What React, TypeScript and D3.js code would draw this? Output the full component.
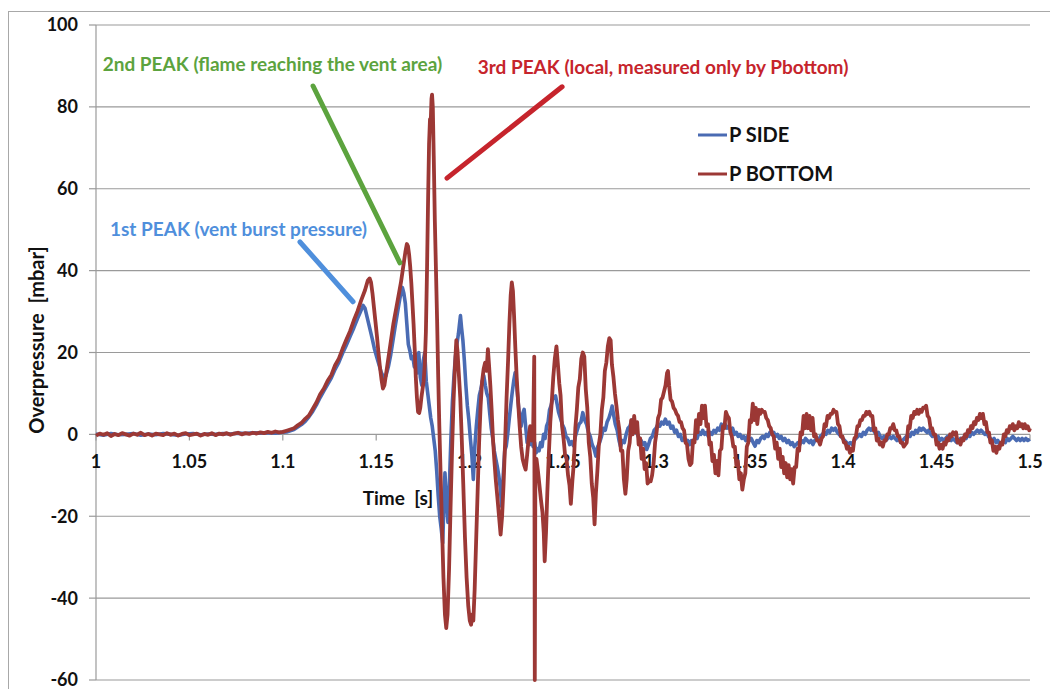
import React from "react";
import * as d3 from "d3";

// Time axis ticks [s] and their labels
const timeTicks = [1, 1.05, 1.1, 1.15, 1.2, 1.25, 1.3, 1.35, 1.4, 1.45, 1.5];
const timeTickLabels = ["1", "1.05", "1.1", "1.15", "1.2", "1.25", "1.3", "1.35", "1.4", "1.45", "1.5"];
// Overpressure axis ticks [mbar]
const pressureTicks = [-60, -40, -20, 0, 20, 40, 60, 80, 100];

const seriesNames = ["P SIDE", "P BOTTOM"];

// P BOTTOM, quiet phase before ignition growth (1.000 - 1.100 s, 2 ms step)
const bottomQuietStart = 1.0;
const bottomQuietStep = 0.002;
const bottomQuiet = [
  -0.3, 0.2, -0.1, 0.3, -0.4, 0.1, -0.2, 0.3, 0.0, -0.3, 0.2, -0.1, 0.4, -0.2, 0.1, -0.3, 0.2,
  0.0, -0.2, 0.3, -0.1, 0.2, -0.3, 0.1, 0.3, -0.2, 0.0, 0.2, -0.3, 0.1, -0.1, 0.3, -0.2, 0.2,
  0.0, 0.3, -0.1, 0.2, 0.4, 0.0, 0.3, 0.1, 0.4, 0.2, 0.5, 0.3, 0.6, 0.4, 0.7, 0.5, 0.6,
];

// P BOTTOM, pressure rise and the three peaks [time s, mbar]
const bottomPeaks: [number, number][] = [
  [1.102, 0.9], [1.104, 1.2], [1.106, 1.5], [1.108, 2.2], [1.110, 2.8], [1.112, 3.8], [1.114, 4.6],
  [1.116, 6.2], [1.118, 7.8], [1.120, 9.8], [1.122, 11.2], [1.124, 13.1], [1.126, 14.5], [1.128, 16.9],
  [1.130, 18.5], [1.132, 20.9], [1.134, 23.1], [1.136, 25.2], [1.138, 27.8], [1.140, 30.1], [1.142, 32.8],
  [1.144, 35.2], [1.1455, 37.6], [1.1465, 38.1], [1.1472, 37.2], [1.148, 34.5], [1.1488, 31], [1.1496, 27.5],
  [1.1504, 24], [1.1512, 20], [1.152, 16.5], [1.1528, 13.5], [1.1536, 11.2], [1.1544, 12], [1.1552, 14.5],
  [1.156, 17], [1.1568, 19.5], [1.1576, 22], [1.1584, 24.5], [1.1592, 27], [1.16, 29], [1.1608, 31],
  [1.1616, 33], [1.1624, 35], [1.1632, 37], [1.164, 39.5], [1.1648, 42], [1.1656, 44.5], [1.1664, 46.5],
  [1.167, 46], [1.1676, 44], [1.1682, 41], [1.1688, 37], [1.1694, 32], [1.17, 27], [1.1706, 21],
  [1.1712, 14], [1.1718, 9], [1.1724, 5.5], [1.173, 5.2], [1.1736, 6.5], [1.1742, 9], [1.1748, 11],
  [1.1754, 13], [1.176, 17], [1.1766, 25], [1.1772, 40], [1.1778, 58], [1.1783, 71], [1.1788, 77],
  [1.1792, 76.5], [1.1796, 82], [1.1799, 83], [1.1803, 80], [1.1808, 68], [1.1814, 52], [1.182, 40],
  [1.1826, 28], [1.1832, 14], [1.1838, 2], [1.1845, -10], [1.1852, -22], [1.186, -35], [1.1868, -44],
  [1.1875, -47.3], [1.1882, -44], [1.189, -33], [1.1898, -18], [1.1906, -4], [1.1914, 8], [1.1922, 17],
  [1.1929, 23], [1.1935, 20.5], [1.1942, 15], [1.195, 9], [1.1958, -1], [1.1966, -12], [1.1975, -25],
  [1.1984, -35], [1.1993, -42], [1.2001, -45.5], [1.2008, -46.5], [1.2014, -44], [1.202, -45.5],
  [1.2027, -38], [1.2035, -26], [1.2043, -14], [1.2051, -2], [1.2059, 7], [1.2067, 13], [1.2075, 15.9],
  [1.2083, 17.5], [1.2091, 15.5], [1.2098, 20.8], [1.2104, 17], [1.2111, 12], [1.2118, 6], [1.2125, -1],
  [1.2132, -6], [1.214, -11], [1.2148, -15], [1.2156, -19.2], [1.2166, -24.5], [1.2174, -20], [1.2182, -12],
  [1.219, -2], [1.2198, 9], [1.2206, 18], [1.2213, 27], [1.222, 34], [1.2226, 37.1], [1.2232, 35],
  [1.2238, 29], [1.2245, 21], [1.2252, 14], [1.226, 7.8], [1.2268, 2], [1.2276, -3], [1.2284, -6.1],
  [1.2292, -7.5], [1.23, -8.6], [1.2308, -5], [1.2316, -1], [1.2324, 2], [1.2332, -1.5], [1.234, 0.5],
  [1.2346, 19], [1.2349, -60], [1.2352, -10], [1.2358, -6], [1.2366, -9], [1.2374, -12.5], [1.2382, -16],
  [1.239, -19], [1.2397, -24], [1.2402, -31], [1.2409, -24], [1.2416, -14.3], [1.2424, -5], [1.2432, 3],
  [1.244, 8], [1.2448, 14], [1.2456, 18.4], [1.2465, 21.5],
];

// P BOTTOM, decaying oscillations with sensor noise [time s, mbar]
const bottomDecay: [number, number][] = [
  [1.2472, 17.5], [1.248, 12.5], [1.2487, 9.5], [1.2495, 2], [1.2503, -1], [1.2511, -5], [1.2519, -6],
  [1.2527, -10], [1.2535, -12.5], [1.2542, -17], [1.255, -11.5], [1.2558, -7], [1.2566, 1.5], [1.2574, 6],
  [1.2582, 11.5], [1.259, 13.5], [1.2598, 18.5], [1.2606, 20], [1.2614, 19], [1.2622, 11], [1.263, 6.5],
  [1.2638, -2], [1.2646, -5.5], [1.2654, -12], [1.2662, -15.5], [1.2669, -22], [1.2676, -14.5], [1.2684, -9],
  [1.2692, -2.5], [1.27, 0], [1.2708, 6], [1.2716, 9], [1.2724, 15.5], [1.2732, 17.5], [1.274, 21.5],
  [1.2748, 23.5], [1.2755, 23], [1.2762, 17], [1.277, 14], [1.2778, 10], [1.2786, 7], [1.2794, 3.5],
  [1.2802, 1], [1.281, -4], [1.2818, -4], [1.2826, -11], [1.2834, -14.5], [1.2841, -11], [1.2849, -4],
  [1.2857, -2], [1.2865, 3.5], [1.2873, 0], [1.2881, 4.5], [1.2889, 0.5], [1.2897, 3], [1.2905, -2.5],
  [1.2913, -1], [1.2921, -6], [1.2929, -3.5], [1.2937, -8.5], [1.2945, -7], [1.2953, -12], [1.2961, -11.5],
  [1.2969, -11.5], [1.2977, -10], [1.2985, -7], [1.2993, -2], [1.3001, 0.5], [1.3009, 4], [1.3017, 5],
  [1.3025, 8.5], [1.3033, 9], [1.3041, 10.5], [1.3049, 12], [1.3057, 15], [1.3062, 15.5], [1.3068, 12],
  [1.3076, 8.5], [1.3084, 8], [1.3092, 6.5], [1.31, 6], [1.3108, 5], [1.3116, 4.5], [1.3124, 3],
  [1.3132, 3], [1.314, 1.5], [1.3148, 1], [1.3156, -2], [1.3164, -2.5], [1.3172, -6], [1.318, -7.5],
  [1.3188, -7], [1.3196, -1.5], [1.3204, -2], [1.3212, 3.5], [1.322, 0.5], [1.3228, 5], [1.3236, 2.5],
  [1.3244, 7], [1.3252, 4], [1.326, 7], [1.3268, 2], [1.3276, 2.5], [1.3284, -2.5], [1.3292, -2],
  [1.33, -6.5], [1.3308, -5], [1.3316, -9.5], [1.3324, -6.5], [1.3332, -10], [1.334, -4], [1.3348, -3.5],
  [1.3356, 2], [1.3364, 1.5], [1.3372, 5.5], [1.338, 4.5], [1.3388, 4], [1.3396, 0.5], [1.3404, -0.5],
  [1.3412, -3], [1.342, -3], [1.3428, -7.5], [1.3436, -6.5], [1.3444, -11], [1.3452, -9.5], [1.346, -13.5],
  [1.3468, -11], [1.3476, -9.5], [1.3484, -3], [1.3492, -2], [1.35, 3.5], [1.3508, 3], [1.3516, 7.5],
  [1.3524, 3.5], [1.3532, 6.5], [1.354, 2.5], [1.3548, 6], [1.3556, 5], [1.3564, 6], [1.3572, 5.5],
  [1.358, 5.5], [1.3588, 4], [1.3596, 3.5], [1.3604, 2], [1.3612, 1.5], [1.362, 0], [1.3628, -0.5],
  [1.3636, -3.5], [1.3644, -2], [1.3652, -6], [1.366, -3.5], [1.3668, -8], [1.3676, -5.5], [1.3684, -9.5],
  [1.3692, -7], [1.37, -10.5], [1.3708, -7.5], [1.3716, -11], [1.3724, -8.5], [1.3732, -12], [1.374, -8],
  [1.3748, -8], [1.3756, -3.5], [1.3764, -4], [1.3772, 0.5], [1.378, 0], [1.3788, 4.5], [1.3796, 1.5],
  [1.3804, 5], [1.3812, 1.5], [1.382, 4.5], [1.3828, 1], [1.3836, 4], [1.3844, -0.5], [1.3852, 0],
  [1.386, -1.5], [1.3868, -1.5], [1.3876, -2.5], [1.3884, -1], [1.3892, -0.5], [1.39, 2.5], [1.3908, 2],
  [1.3916, 4.5], [1.3924, 4], [1.3932, 5], [1.394, 5], [1.3948, 6], [1.3956, 5.5], [1.3964, 5.5],
  [1.3972, 2.5], [1.398, 2], [1.3988, -0.5], [1.3996, -0.5], [1.4004, -2], [1.4012, -2], [1.402, -3.5],
  [1.4028, -3], [1.4036, -4.5], [1.4044, -3.5], [1.4052, -4], [1.406, -1], [1.4068, -0.5], [1.4076, 2],
  [1.4084, 2], [1.4092, 3.5], [1.41, 3.5], [1.4108, 4.5], [1.4116, 4.5], [1.4124, 5.5], [1.4132, 5],
  [1.414, 5.5], [1.4148, 4.5], [1.4156, 4.5], [1.4164, 1], [1.4172, 1.5], [1.418, -1.5], [1.4188, -1],
  [1.4196, -2.5], [1.4204, -2], [1.4212, -3], [1.422, -1.5], [1.4228, -1.5], [1.4236, 0], [1.4244, 0],
  [1.4252, 1.5], [1.426, 1.5], [1.4268, 2.5], [1.4276, 1], [1.4284, 1], [1.4292, -0.5], [1.43, -0.5],
  [1.4308, -2], [1.4316, -2], [1.4324, -3], [1.4332, -2.5], [1.434, -2], [1.4348, 2], [1.4356, 1.5],
  [1.4364, 4.5], [1.4372, 4], [1.438, 5.5], [1.4388, 5], [1.4396, 6], [1.4404, 5], [1.4412, 6],
  [1.442, 5.5], [1.4428, 6.5], [1.4436, 6.5], [1.4444, 7], [1.4452, 4.5], [1.446, 4], [1.4468, 1.5],
  [1.4476, 1.5], [1.4484, 0], [1.4492, 0], [1.45, -2.5], [1.4508, -2], [1.4516, -3.5], [1.4524, -2.5],
  [1.4532, -3.5], [1.454, -2], [1.4548, -2.5], [1.4556, -1], [1.4564, -1.5], [1.4572, 0], [1.458, -0.5],
  [1.4588, 0.5], [1.4596, 0], [1.4604, 0.5], [1.4612, -2], [1.462, -1.5], [1.4628, -2.5], [1.4636, -1],
  [1.4644, -1.5], [1.4652, 0], [1.466, -0.5], [1.4668, 1], [1.4676, 0.5], [1.4684, 2], [1.4692, 1.5],
  [1.47, 3], [1.4708, 2.5], [1.4716, 4], [1.4724, 3.5], [1.4732, 5], [1.474, 4], [1.4748, 5],
  [1.4756, 2.5], [1.4764, 3], [1.4772, 0.5], [1.478, 0.5], [1.4788, -2], [1.4796, -1.5], [1.4804, -4],
  [1.4812, -3], [1.482, -4.5], [1.4828, -3], [1.4836, -3.5], [1.4844, -2], [1.4852, -2.5], [1.486, 0],
  [1.4868, -0.5], [1.4876, 1], [1.4884, 0.5], [1.4892, 2], [1.49, 1.5], [1.4908, 2.5], [1.4916, 1],
  [1.4924, 2], [1.4932, 1.5], [1.494, 3], [1.4948, 2], [1.4956, 2.5], [1.4964, 1.5], [1.4972, 2.5],
  [1.498, 1.5], [1.4988, 2], [1.4996, 1], [1.5, 1.5],
];

// P SIDE, quiet phase (1.000 - 1.100 s, 4 ms step)
const sideQuietStart = 1.0;
const sideQuietStep = 0.004;
const sideQuiet = [
  0.1, -0.2, 0.2, -0.1, 0.0, 0.2, -0.2, 0.1, -0.1, 0.2, 0.0, -0.2, 0.1, 0.2, -0.1, 0.1, 0.0, 0.2,
  0.1, 0.3, 0.2, 0.4, 0.3, 0.4, 0.3, 0.5,
];

// P SIDE, pressure rise and peaks [time s, mbar]
const sidePeaks: [number, number][] = [
  [1.102, 0.6], [1.104, 0.9], [1.106, 1.2], [1.108, 1.8], [1.11, 2.4], [1.112, 3.2], [1.114, 4.3],
  [1.116, 5.6], [1.118, 7.2], [1.12, 9.0], [1.122, 10.6], [1.124, 12.2], [1.126, 13.8], [1.128, 15.9],
  [1.13, 17.6], [1.132, 19.8], [1.134, 21.8], [1.136, 23.9], [1.138, 26], [1.14, 28.3], [1.1418, 30.2],
  [1.143, 31.5], [1.144, 30.8], [1.1452, 28.5], [1.1465, 26], [1.1478, 23.5], [1.149, 21], [1.1502, 19],
  [1.1515, 17], [1.1528, 15], [1.154, 14], [1.1552, 14.3], [1.1565, 16.5], [1.1578, 19.5], [1.159, 23],
  [1.1602, 26.5], [1.1615, 30], [1.1628, 33.5], [1.164, 35.9], [1.1648, 34.5], [1.1656, 32], [1.1664, 27],
  [1.1672, 22], [1.168, 20.5], [1.1688, 18.5], [1.1696, 19], [1.1704, 16.5], [1.1712, 19.5], [1.172, 15],
  [1.1728, 20], [1.1736, 14], [1.1744, 12], [1.1752, 18], [1.176, 20], [1.1768, 13], [1.1776, 10],
  [1.1784, 7], [1.1792, 4], [1.18, 2], [1.1808, -1], [1.1816, -4], [1.1824, -9], [1.1832, -15],
  [1.184, -20], [1.1848, -23], [1.1856, -26.5], [1.1862, -18], [1.1868, -9.4], [1.1876, -16], [1.1884, -21.5],
  [1.1892, -12], [1.19, -1], [1.1908, 8], [1.1916, 14], [1.1924, 19], [1.1932, 22], [1.194, 24.5],
  [1.1946, 27], [1.1951, 29], [1.1957, 26], [1.1964, 23], [1.1972, 18], [1.198, 12], [1.1988, 7],
  [1.1996, 3.5], [1.2004, -1], [1.2012, -5], [1.202, -11], [1.2028, -3], [1.2036, 2], [1.2044, 6],
  [1.2052, 9.5], [1.206, 11], [1.2068, 13], [1.2076, 14.3], [1.2084, 12], [1.2092, 10], [1.21, 9],
  [1.2108, 5], [1.2116, 1.5], [1.2124, -1], [1.2132, -4], [1.214, -6], [1.2148, -7.8], [1.2156, -10],
  [1.2164, -13], [1.2172, -17.6], [1.218, -10], [1.2188, -4], [1.2196, -2.9], [1.2204, 0], [1.2212, 3.7],
  [1.222, 7], [1.2228, 10.2], [1.2236, 13], [1.2244, 15.1], [1.2252, 12], [1.226, 7.8], [1.2268, 4],
  [1.2276, 2], [1.2284, 5], [1.2292, 6.1], [1.23, 2], [1.2308, -2], [1.2316, -1], [1.2324, -2.5],
  [1.2332, -1.2], [1.234, -3], [1.2348, -2], [1.2356, -4.5], [1.2364, -3.5], [1.2372, -4], [1.238, -2],
  [1.2388, -3], [1.2396, 0], [1.2404, -1], [1.2412, 2], [1.242, 3], [1.2428, 6], [1.2436, 7],
  [1.2444, 8.6], [1.2452, 9], [1.246, 9.4], [1.2468, 7.5],
];

// P SIDE, decaying oscillations [time s, mbar]
const sideDecay: [number, number][] = [
  [1.2476, 5.5], [1.2486, 4], [1.2496, 2.5], [1.2506, 1.5], [1.2516, -0.5], [1.2526, -1], [1.2536, -2.5],
  [1.2546, -1.8], [1.2556, -2.8], [1.2566, -0.5], [1.2576, 1], [1.2586, 2.5], [1.2596, 3], [1.2606, 5.3],
  [1.2616, 3.5], [1.2626, 2.5], [1.2636, 0.5], [1.2646, -0.5], [1.2656, -2.5], [1.2666, -3.5], [1.2676, -5.3],
  [1.2686, -3], [1.2696, -2], [1.2706, -0.5], [1.2716, 1.5], [1.2726, 1], [1.2736, 3], [1.2746, 4],
  [1.2756, 5.5], [1.2763, 6.9], [1.277, 5], [1.278, 2.5], [1.279, 1], [1.28, -1.5], [1.2808, -3],
  [1.2818, -1.5], [1.2828, -2], [1.2838, 0], [1.2848, 1.5], [1.2858, 2], [1.2868, 3.5], [1.2878, 2.5],
  [1.2888, 1.5], [1.2898, 0], [1.2908, -1], [1.2918, -1.5], [1.2928, -2.5], [1.2938, -2], [1.2948, -3.7],
  [1.2958, -2.5], [1.2968, -1], [1.2978, -0.5], [1.2988, 1], [1.2998, 1.5], [1.3008, 2.5], [1.3018, 2],
  [1.3028, 3], [1.3038, 2.5], [1.3048, 3.7], [1.3058, 2.5], [1.3068, 3], [1.3078, 1.5], [1.3088, 2],
  [1.3098, 0.5], [1.3108, 1], [1.3118, -0.5], [1.3128, 0], [1.3138, -1.5], [1.3148, -1], [1.3158, -2],
  [1.3168, -1.5], [1.3178, -2.5], [1.3188, -1.5], [1.3198, -2], [1.3208, -0.5], [1.3218, -1], [1.3228, 0.5],
  [1.3238, 0], [1.3248, 1], [1.3258, 0], [1.3268, 0.5], [1.3278, -0.5], [1.3288, 0.5], [1.3298, 0],
  [1.3308, 1], [1.3318, 0.5], [1.3328, 1.5], [1.3338, 1], [1.3348, 2.5], [1.3358, 1.5], [1.3368, 2.5],
  [1.3378, 1.5], [1.3388, 2], [1.3398, 1], [1.3408, 1.5], [1.3418, 0], [1.3428, 0.5], [1.3438, -0.5],
  [1.3448, 0], [1.3458, -1], [1.3468, -0.5], [1.3478, -1.5], [1.3488, -0.5], [1.3498, -1.5], [1.3508, -1],
  [1.3518, -2], [1.3528, -2.9], [1.3538, -1.5], [1.3548, -2], [1.3558, -1], [1.3568, -0.5], [1.3578, -1],
  [1.3588, 0], [1.3598, -0.5], [1.3608, 0.5], [1.3618, 0], [1.3628, 0.5], [1.3638, -0.5], [1.3648, 0],
  [1.3658, -1], [1.3668, -0.5], [1.3678, -1.5], [1.3688, -1], [1.3698, -2], [1.3708, -1.5], [1.3718, -2.5],
  [1.3728, -2], [1.3738, -3], [1.3748, -2.5], [1.3758, -2], [1.3768, -2.5], [1.3778, -1.5], [1.3788, -2],
  [1.3798, -1], [1.3808, -1.5], [1.3818, -2], [1.3828, -1.5], [1.3838, -2.5], [1.3848, -1.5], [1.3858, -1],
  [1.3868, -1.5], [1.3878, -0.5], [1.3888, 0], [1.3898, 0.5], [1.3908, 0], [1.3918, 1], [1.3928, 0.5],
  [1.3938, 1.5], [1.3948, 1], [1.3958, 1.5], [1.3968, 0.5], [1.3978, 0], [1.3988, -0.5], [1.3998, -1],
  [1.4008, -1.5], [1.4018, -2], [1.4028, -2.5], [1.4038, -2], [1.4048, -2.5], [1.4058, -1.5], [1.4068, -1],
  [1.4078, -0.5], [1.4088, 0], [1.4098, -0.5], [1.4108, 0.5], [1.4118, 0], [1.4128, 1], [1.4138, 1.5],
  [1.4148, 1], [1.4158, 1.5], [1.4168, 0.5], [1.4178, 0], [1.4188, 0.5], [1.4198, -0.5], [1.4208, -1],
  [1.4218, -0.5], [1.4228, -1.5], [1.4238, -1], [1.4248, -0.5], [1.4258, -1], [1.4268, -0.5], [1.4278, -1],
  [1.4288, -1.5], [1.4298, -1], [1.4308, -2], [1.4318, -1.5], [1.4328, -1], [1.4338, -0.5], [1.4348, 0],
  [1.4358, -0.5], [1.4368, 0.5], [1.4378, 0], [1.4388, 1], [1.4398, 0.5], [1.4408, 1.5], [1.4418, 1],
  [1.4428, 1.5], [1.4438, 1], [1.4448, 0.5], [1.4458, 1], [1.4468, 0], [1.4478, -0.5], [1.4488, 0],
  [1.4498, -1], [1.4508, -0.5], [1.4518, -1.5], [1.4528, -1], [1.4538, -1.5], [1.4548, -1], [1.4558, -0.5],
  [1.4568, -1], [1.4578, -1.5], [1.4588, -1], [1.4598, -1.5], [1.4608, -2], [1.4618, -1.5], [1.4628, -1],
  [1.4638, -1.5], [1.4648, -0.5], [1.4658, -1], [1.4668, 0], [1.4678, -0.5], [1.4688, 0.5], [1.4698, 0],
  [1.4708, 0.5], [1.4718, 1], [1.4728, 0.5], [1.4738, 1], [1.4748, 0.5], [1.4758, 0], [1.4768, 0.5],
  [1.4778, -0.5], [1.4788, -1], [1.4798, -1.5], [1.4808, -1], [1.4818, -2], [1.4828, -1.5], [1.4838, -2.5],
  [1.4848, -2], [1.4858, -1.5], [1.4868, -2], [1.4878, -1], [1.4888, -1.5], [1.4898, -1], [1.4908, -0.5],
  [1.4918, -1], [1.4928, -1.5], [1.4938, -1], [1.4948, -1.5], [1.4958, -1], [1.4968, -1.5], [1.4978, -1],
  [1.4988, -1.5], [1.5, -1.2],
];

// Callouts: label, anchor of the text (left, vertical middle) and leader line, in data units
const calloutLabels = [
  "1st PEAK (vent burst pressure)",
  "2nd PEAK (flame reaching the vent area)",
  "3rd PEAK (local, measured only by Pbottom)",
];
const calloutTextAt: [number, number][] = [[1.0075, 50.2], [1.0036, 90.5], [1.2043, 89.8]];
const calloutLineFrom: [number, number][] = [[1.1092, 47.0], [1.1162, 85.1], [1.2495, 84.9]];
const calloutLineTo: [number, number][] = [[1.1376, 32.4], [1.1627, 41.9], [1.1879, 62.6]];

const W = 1050;
const H = 689;
const FONT = "Lato, 'Open Sans', 'DejaVu Sans', sans-serif";
const SIDE_COLOR = "#4a6bb3";
const BOTTOM_COLOR = "#9c3835";
const CALLOUT_COLORS = ["#4f8fdc", "#5ca33e", "#c6242c"];
const GRID = "#9a9a9a";

function expand(start: number, step: number, vals: number[]): [number, number][] {
  return vals.map((v, i) => [start + i * step, v]);
}

export default function App() {
  const x = d3.scaleLinear().domain([1, 1.5]).range([96, 1030]);
  const y = d3.scaleLinear().domain([-60, 100]).range([680, 25]);

  const side = [...expand(sideQuietStart, sideQuietStep, sideQuiet), ...sidePeaks, ...sideDecay];
  const bottom = [...expand(bottomQuietStart, bottomQuietStep, bottomQuiet), ...bottomPeaks, ...bottomDecay];

  const line = d3
    .line<[number, number]>()
    .x((d) => x(d[0]))
    .y((d) => y(d[1]));

  const x0 = x(1);
  const x1 = x(1.5);

  return (
    <svg
      width={W}
      height={H}
      viewBox={`0 0 ${W} ${H}`}
      style={{ position: "absolute", left: 0, top: 0, background: "#fff" }}
      fontFamily={FONT}
    >
      <rect x={0} y={0} width={W} height={H} fill="#fff" />
      {/* chart frame */}
      <rect x={8.5} y={11.5} width={1100} height={800} fill="none" stroke="#a8a8a8" strokeWidth={1} />

      {/* horizontal gridlines and y ticks */}
      {pressureTicks.map((t) => (
        <g key={`gy${t}`}>
          <line x1={x0} x2={x1} y1={y(t)} y2={y(t)} stroke={GRID} strokeWidth={1.2} />
          <line x1={x0 - 7} x2={x0} y1={y(t)} y2={y(t)} stroke={GRID} strokeWidth={1.2} />
          <text
            x={78}
            y={y(t)}
            dy="0.36em"
            textAnchor="end"
            fontSize={18}
            fontWeight="bold"
            fill="#111"
          >
            {t}
          </text>
        </g>
      ))}
      {/* vertical axis line */}
      <line x1={x0} x2={x0} y1={y(100)} y2={y(-60)} stroke={GRID} strokeWidth={1.2} />

      {/* time ticks on the zero line */}
      {timeTicks.map((t, i) => (
        <g key={`tx${t}`}>
          <line x1={x(t)} x2={x(t)} y1={y(0)} y2={y(0) + 6} stroke={GRID} strokeWidth={1.2} />
          <text
            x={x(t)}
            y={y(0) + 27}
            dy="0.36em"
            textAnchor="middle"
            fontSize={18}
            fontWeight="bold"
            fill="#111"
          >
            {timeTickLabels[i]}
          </text>
        </g>
      ))}

      {/* series */}
      <path d={line(side) ?? ""} fill="none" stroke={SIDE_COLOR} strokeWidth={3.6} strokeLinejoin="round" />
      <path d={line(bottom) ?? ""} fill="none" stroke={BOTTOM_COLOR} strokeWidth={3.8} strokeLinejoin="round" />

      {/* axis titles */}
      <text x={398} y={498} dy="0.36em" textAnchor="middle" fontSize={19} fontWeight="bold" fill="#111" style={{ whiteSpace: "pre" }}>
        {"Time  [s]"}
      </text>
      <text
        transform="translate(37,340) rotate(-90)"
        dy="0.36em"
        textAnchor="middle"
        fontSize={20}
        fontWeight="bold"
        fill="#111"
        style={{ whiteSpace: "pre" }}
      >
        {"Overpressure  [mbar]"}
      </text>

      {/* legend */}
      {seriesNames.map((name, i) => (
        <g key={name}>
          <line
            x1={698}
            x2={727}
            y1={135 + i * 39}
            y2={135 + i * 39}
            stroke={i === 0 ? SIDE_COLOR : BOTTOM_COLOR}
            strokeWidth={3}
          />
          <text x={729} y={135 + i * 39} dy="0.36em" fontSize={20} fontWeight="bold" fill="#111">
            {name}
          </text>
        </g>
      ))}

      {/* callouts */}
      {calloutLabels.map((label, i) => (
        <g key={label}>
          <line
            x1={x(calloutLineFrom[i][0])}
            y1={y(calloutLineFrom[i][1])}
            x2={x(calloutLineTo[i][0])}
            y2={y(calloutLineTo[i][1])}
            stroke={CALLOUT_COLORS[i]}
            strokeWidth={5}
            strokeLinecap="round"
          />
          <text
            x={x(calloutTextAt[i][0])}
            y={y(calloutTextAt[i][1])}
            dy="0.36em"
            fontSize={19}
            fontWeight="bold"
            fill={CALLOUT_COLORS[i]}
          >
            {label}
          </text>
        </g>
      ))}
    </svg>
  );
}
